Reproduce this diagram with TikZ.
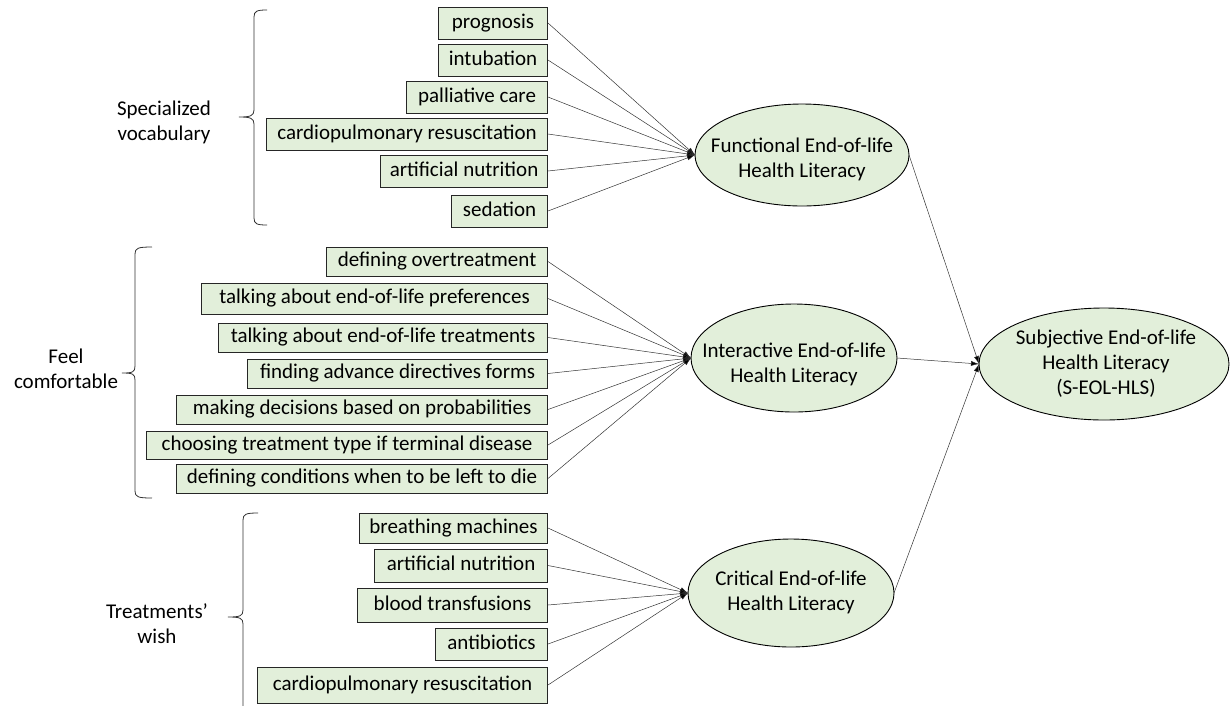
\documentclass[tikz,border=0pt]{standalone}
\usepackage{fontspec}
\setmainfont{Carlito}
\usetikzlibrary{shapes.geometric,arrows.meta}
\definecolor{boxgreen}{HTML}{E2EFDA}
\tikzset{
  bx/.style={draw=black!85, line width=0.9pt, fill=boxgreen, anchor=east, inner xsep=2pt, inner ysep=0pt,
    text height=14pt, text depth=4pt, font=\fontsize{21}{25}\selectfont},
  ell/.style={ellipse, draw=black, line width=0.9pt, fill=boxgreen, inner sep=0pt, outer sep=0pt},
  etext/.style={align=center, font=\fontsize{21}{25}\selectfont, inner sep=0pt},
  lbl/.style={align=center, font=\fontsize{21}{25}\selectfont, inner sep=0pt},
  conn/.style={draw=black!80, line width=0.5pt, -{Latex[length=8pt,width=5pt,fill=black]}},
  brace/.style={draw=black!80, line width=0.8pt}
}
\begin{document}
\begin{tikzpicture}[x=1pt,y=-1pt]
\useasboundingbox (0,0) rectangle (1230,705);

% ---------- ellipses ----------
\node[ell, minimum width=214pt, minimum height=102pt] (F) at (802,155) {};
\node[etext] (Ft) at (802,159) {Functional End-of-life\\Health Literacy};
\node[ell, minimum width=206pt, minimum height=108pt] (I) at (794,358) {};
\node[etext] (It) at (794,364) {Interactive End-of-life\\Health Literacy};
\node[ell, minimum width=206pt, minimum height=108pt] (C) at (791,593) {};
\node[etext] (Ct) at (791,592) {Critical End-of-life\\Health Literacy};
\node[ell, minimum width=250pt, minimum height=112pt] (S) at (1104,364) {};
\node[etext] (St) at (1106,364) {Subjective End-of-life\\Health Literacy\\(S-EOL-HLS)};

% ---------- functional boxes ----------
\node[bx, minimum width=109pt, minimum height=32pt] (f1) at (548,23) {prognosis};
\node[bx, minimum width=109pt, minimum height=32pt] (f2) at (548,60) {intubation};
\node[bx, minimum width=141pt, minimum height=32pt] (f3) at (548,97) {palliative care};
\node[bx, minimum width=281pt, minimum height=32pt] (f4) at (548,134) {cardiopulmonary resuscitation};
\node[bx, minimum width=167pt, minimum height=32pt] (f5) at (548,171) {artificial nutrition};
\node[bx, minimum width=96pt, minimum height=32pt] (f6) at (548,211) {sedation};

% ---------- interactive boxes ----------
\node[bx, minimum width=221pt, minimum height=29pt] (i1) at (548,261.5) {defining overtreatment};
\node[bx, minimum width=346pt, minimum height=31pt] (i2) at (548,298.5) {talking about end-of-life preferences};
\node[bx, minimum width=329pt, minimum height=29pt] (i3) at (548,337.5) {talking about end-of-life treatments};
\node[bx, minimum width=300pt, minimum height=29pt] (i4) at (548,373.5) {finding advance directives forms};
\node[bx, minimum width=371pt, minimum height=29pt] (i5) at (548,409.5) {making decisions based on probabilities};
\node[bx, minimum width=401pt, minimum height=28pt] (i6) at (548,445) {choosing treatment type if terminal disease};
\node[bx, minimum width=371pt, minimum height=29pt] (i7) at (548,478.5) {defining conditions when to be left to die};

% ---------- critical boxes ----------
\node[bx, minimum width=188pt, minimum height=30pt] (c1) at (548,528) {breathing machines};
\node[bx, minimum width=173pt, minimum height=33pt] (c2) at (548,565.5) {artificial nutrition};
\node[bx, minimum width=190pt, minimum height=34pt] (c3) at (548,605) {blood transfusions};
\node[bx, minimum width=112pt, minimum height=32pt] (c4) at (548,644) {antibiotics};
\node[bx, minimum width=290pt, minimum height=36pt] (c5) at (548,685) {cardiopulmonary resuscitation};

% ---------- connectors ----------
\foreach \b in {f1,f2,f3,f4,f5,f6} \draw[conn] (\b.east) -- (F.west);
\foreach \b in {i1,i2,i3,i4,i5,i6,i7} \draw[conn] (\b.east) -- (I.west);
\foreach \b in {c1,c2,c3,c4,c5} \draw[conn] (\b.east) -- (C.west);
\draw[conn] (F.east) -- (S.west);
\draw[conn] (I.east) -- (S.west);
\draw[conn] (C.east) -- (S.west);

% ---------- braces ----------
\draw[brace] (267,10) .. controls (257,10) and (254,11) .. (254,17) -- (254,110)
  .. controls (254,116) and (250,117) .. (239,117)
  .. controls (250,117) and (254,118) .. (254,124) -- (254,218)
  .. controls (254,224) and (257,225) .. (267,225);
\draw[brace] (152,247) .. controls (138,247) and (135,248) .. (135,254) -- (135,366)
  .. controls (135,372) and (133,373) .. (122,373)
  .. controls (133,373) and (135,374) .. (135,380) -- (135,491)
  .. controls (135,497) and (138,498) .. (152,498);
\draw[brace] (258,513) .. controls (246,513) and (243,514) .. (243,520) -- (243,610)
  .. controls (243,616) and (240,617) .. (228,617)
  .. controls (240,617) and (243,618) .. (243,624) -- (243,714)
  .. controls (243,720) and (246,721) .. (258,721);

% ---------- labels ----------
\node[lbl] (lv) at (164,122) {Specialized\\vocabulary};
\node[lbl] (lf) at (66,369) {Feel\\comfortable};
\node[lbl] (lt) at (157,624) {Treatments’\\wish};
\end{tikzpicture}
\end{document}
